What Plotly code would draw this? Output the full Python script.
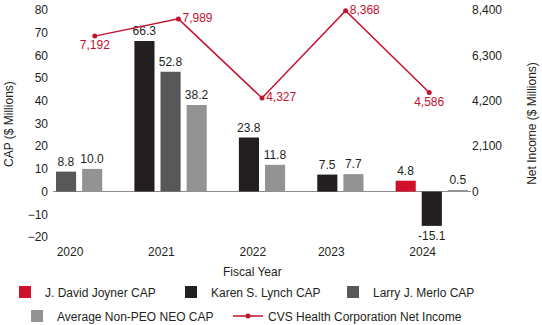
import plotly.graph_objects as go

years = ["2020", "2021", "2022", "2023", "2024"]
series_names = ["J. David Joyner CAP", "Karen S. Lynch CAP", "Larry J. Merlo CAP", "Average Non-PEO NEO CAP"]
joyner = [None, None, None, None, 4.8]
lynch = [None, 66.3, 23.8, 7.5, -15.1]
merlo = [8.8, 52.8, None, None, None]
avg_neo = [10.0, 38.2, 11.8, 7.7, 0.5]
net_income = [7192, 7989, 4327, 8368, 4586]
net_income_label_pos = ["bottom center", "middle right", "middle right", "middle right", "bottom center"]

bar_colors = ["#d0112b", "#231f20", "#58585a", "#939393"]
line_color = "#c41230"
font = "Liberation Sans, Arial, sans-serif"

W, H = 542, 325
L, R, T, B = 53, 71, 10, 88
PW, PH = W - L - R, H - T - B

# legend entries: (left edge of entry text in px, row centre in px)
legend_spots = [(47, 292), (213, 292), (375, 292), (59, 316), (270, 316)]

series_values = [joyner, lynch, merlo, avg_neo]

# Bars of each year are packed next to each other (empty series skipped),
# with one empty slot separating consecutive years.
slot_x = {i: [] for i in range(len(series_values))}
slot_y = {i: [] for i in range(len(series_values))}
group_centers = []
slot = 0
for yi in range(len(years)):
    start = slot
    for si, vals in enumerate(series_values):
        if vals[yi] is not None:
            slot_x[si].append(slot + 0.5)
            slot_y[si].append(vals[yi])
            slot += 1
    group_centers.append((start + slot) / 2)
    slot += 1
n_slots = slot - 1


def py(pixel_y):
    """Paper y coordinate for a pixel row of the page."""
    return (H - B - pixel_y) / PH


def px(pixel_x):
    """Paper x coordinate for a pixel column of the page."""
    return (pixel_x - L) / PW


legend_names = ["legend"] + [f"legend{i}" for i in range(2, 6)]

fig = go.Figure()
for si, name in enumerate(series_names):
    fig.add_trace(go.Bar(
        x=slot_x[si], y=slot_y[si], name=name,
        marker=dict(color=bar_colors[si], line=dict(width=0)),
        width=0.77,
        texttemplate="%{y:.1f}", textposition="outside",
        constraintext="none",
        textfont=dict(color="#231f20", size=12, family=font),
        cliponaxis=False,
        legend=legend_names[si], showlegend=True,
    ))

# Net income points sit at the centres of five equal-width year bands.
line_x = [(i + 0.5) * n_slots / len(years) for i in range(len(years))]
fig.add_trace(go.Scatter(
    x=line_x, y=net_income, yaxis="y2", name="CVS Health Corporation Net Income",
    mode="lines+markers+text",
    line=dict(color=line_color, width=1.5),
    marker=dict(color=line_color, size=5),
    text=[f"{v:,}" for v in net_income],
    textposition=net_income_label_pos,
    textfont=dict(color=line_color, size=12, family=font),
    cliponaxis=False,
    legend=legend_names[4], showlegend=True,
))

legend_layout = {}
for lname, (tx, ty) in zip(legend_names, legend_spots):
    legend_layout[lname] = dict(
        orientation="h", x=px(tx - 42), xanchor="left", y=py(ty), yanchor="middle",
        font=dict(size=12), itemclick=False, bgcolor="rgba(0,0,0,0)",
    )

fig.update_layout(
    width=W, height=H,
    showlegend=True,
    margin=dict(l=L, r=R, t=T, b=B, autoexpand=False),
    paper_bgcolor="white", plot_bgcolor="white",
    font=dict(family=font, size=12, color="#231f20"),
    barmode="overlay",
    xaxis=dict(
        range=[0, n_slots], showgrid=False, zeroline=False, showline=False,
        tickvals=[c - 0.35 for c in group_centers], ticktext=years,
        ticks="", tickfont=dict(size=12), ticklabelstandoff=6,
    ),
    yaxis=dict(
        range=[-20, 80], dtick=10, showgrid=False, showline=False,
        zeroline=True, zerolinecolor="#8c8c8c", zerolinewidth=1,
        tickfont=dict(size=12), ticklabelstandoff=4,
    ),
    yaxis2=dict(
        range=[-2100, 8400], overlaying="y", side="right",
        tickvals=[0, 2100, 4200, 6300, 8400], tickformat=",",
        showgrid=False, zeroline=False, showline=False,
        title=dict(text="Net Income ($ Millions)", font=dict(size=12), standoff=26),
        tickfont=dict(size=12),
    ),
    annotations=[
        dict(text="Fiscal Year", x=px(252), xref="paper", y=py(272), yref="paper",
             yanchor="middle", showarrow=False, font=dict(size=12)),
        dict(text="CAP ($ Millions)", x=px(9), xref="paper", y=py(124), yref="paper",
             textangle=-90, xanchor="center", yanchor="middle", showarrow=False,
             font=dict(size=12)),
    ],
    **legend_layout,
)

fig.write_html("out.html")
